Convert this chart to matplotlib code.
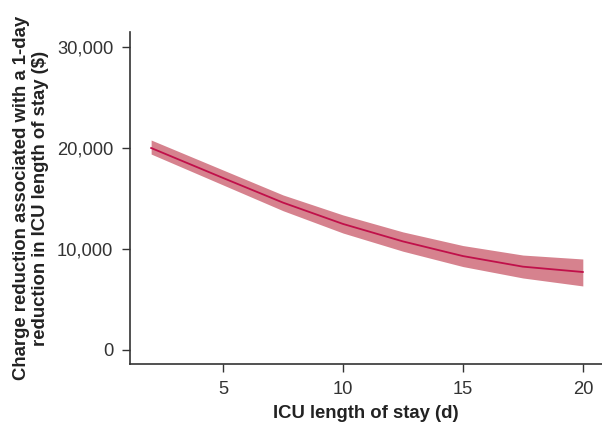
import numpy as np
import matplotlib.pyplot as plt
from matplotlib.ticker import FuncFormatter

# values
los = [2, 5, 7.5, 10, 12.5, 15, 17.5, 20]
charge = [20000, 17030, 14590, 12480, 10750, 9300, 8250, 7720]
upper = [20790, 17820, 15350, 13370, 11690, 10340, 9400, 9010]
lower = [19400, 16340, 13790, 11580, 9780, 8260, 7130, 6340]
yticks = [0, 10000, 20000, 30000]
xticks = [5, 10, 15, 20]

plt.rcParams['font.family'] = ['Liberation Sans', 'DejaVu Sans']

fig = plt.figure(figsize=(6.02, 4.26), dpi=100)
ax = fig.add_axes([0.216, 0.1455, 0.784, 0.7795])

ax.fill_between(los, lower, upper, color='#d6828e', lw=0)
ax.plot(los, charge, color='#c0104a', lw=1.3)

ax.set_xlim(1.12, 20.8)
ax.set_ylim(-1390, 31490)
ax.set_xticks(xticks)
ax.set_yticks(yticks)
ax.yaxis.set_major_formatter(FuncFormatter(lambda v, p: f'{int(v):,}'))

for s in ['top', 'right']:
    ax.spines[s].set_visible(False)
for s in ['left', 'bottom']:
    ax.spines[s].set_color('#333333')
    ax.spines[s].set_linewidth(1.2)
ax.tick_params(length=6, width=1, color='#333333', labelcolor='#333333',
               labelsize=13.2, pad=6)

ax.set_xlabel('ICU length of stay (d)', fontsize=13.3, fontweight='bold',
              color='#222222', labelpad=5)
ax.set_ylabel('Charge reduction associated with a 1-day\nreduction in ICU length of stay ($)',
              fontsize=13.3, fontweight='bold', color='#222222', labelpad=6,
              linespacing=1.15)

fig.savefig('out.png', dpi=100)
